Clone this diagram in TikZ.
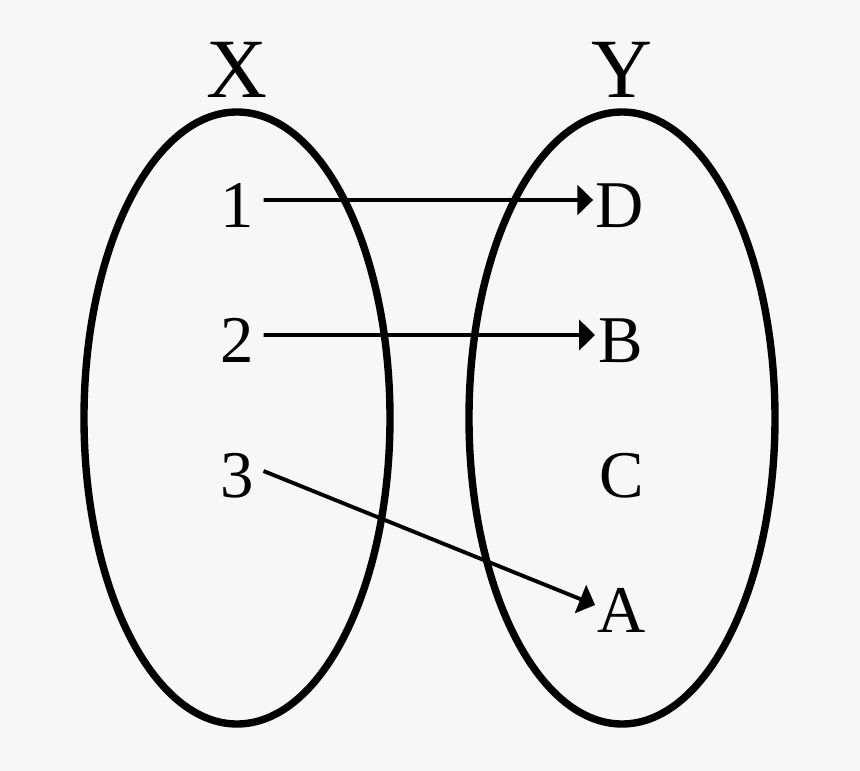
\documentclass[tikz,border=0pt]{standalone}
\usepackage{fontspec}
\setmainfont{Liberation Serif}
\usetikzlibrary{arrows.meta}
\definecolor{bgcol}{HTML}{F7F7F7}

\begin{document}
\begin{tikzpicture}[x=0.02cm, y=-0.02cm, >={Triangle[length=9pt, width=17pt]}, line width=2.2pt,
    elem/.style={inner sep=0pt, font=\fontsize{38}{42}\selectfont},
    setname/.style={inner sep=0pt, font=\fontsize{48}{52}\selectfont},
    setring/.style={line width=4.2pt}]
    \fill[bgcol] (0,0) rectangle (860,771);
    \useasboundingbox (0,0) rectangle (860,771);
    % the two sets
    \draw[setring] (237,418) ellipse [x radius=153, y radius=306];
    \draw[setring] (622,418) ellipse [x radius=153, y radius=306];
    \node[setname] (X) at (237,70) {X};
    \node[setname] (Y) at (622,70) {Y};
    \node[elem] (n1) at (237,205) {1};
    \node[elem] (n2) at (237,340) {2};
    \node[elem] (n3) at (237,476) {3};
    \node[elem] (D) at (620,206) {D};
    \node[elem] (B) at (621,341) {B};
    \node[elem] (C) at (622,476) {C};
    \node[elem] (A) at (622,610) {A};
    \draw[->] ([xshift=4.5pt, yshift=0.1cm]n1.east) -- ([xshift=-0.5pt, yshift=0.12cm]D.west);
    \draw[->] ([xshift=4.5pt, yshift=0.1cm]n2.east) -- ([xshift=-1pt, yshift=0.12cm]B.west);
    \draw[->] ([xshift=4.5pt, yshift=0.1cm]n3.east) -- ([xshift=-0.5pt, yshift=0.1cm]A.west);
\end{tikzpicture}
\end{document}
